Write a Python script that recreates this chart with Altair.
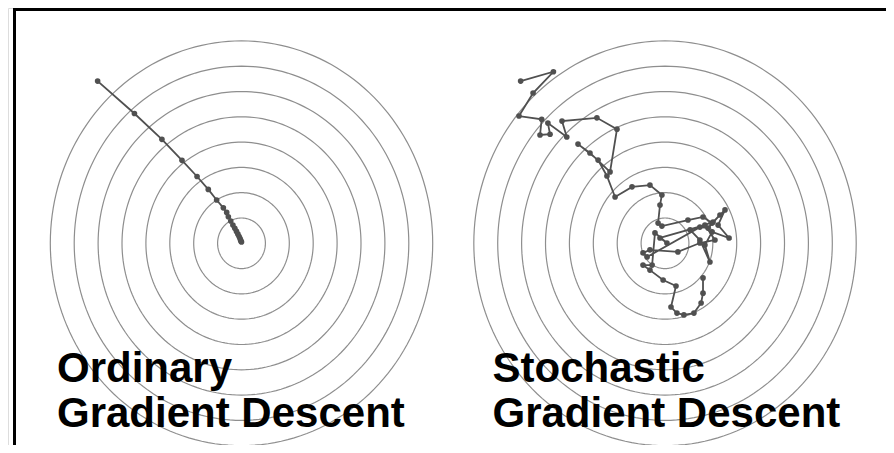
import altair as alt
import pandas as pd

# ---- data (units: one ring spacing = 1, relative to each panel's centre) ----
ring_radii = [1, 2, 3, 4, 5, 6, 7, 8]
panel_names = ["Ordinary", "Stochastic"]
panel_center_x = [0.0, 17.72]

gd_x = [-6.02, -4.48, -3.33, -2.49, -1.86, -1.39, -1.04, -0.76, -0.62, -0.55, -0.45, -0.36,
        -0.28, -0.21, -0.15, -0.10, -0.06, -0.04, -0.02, 0.0]
gd_y = [6.41, 5.13, 4.11, 3.28, 2.64, 2.13, 1.71, 1.40, 1.22, 1.05, 0.88, 0.72,
        0.59, 0.47, 0.36, 0.27, 0.19, 0.13, 0.08, 0.05]

sgd_x = [-6.04, -4.67, -5.52, -6.11, -5.16, -5.23, -4.81, -4.90, -4.11, -4.31, -2.85, -2.01,
         -2.30, -3.14, -3.64, -2.80, -2.43, -2.09, -1.38, -0.63, -0.13,
         -0.21, -0.29, -0.13, 0.96, 1.59, 1.97, 2.51, 2.22, 2.68, 1.97, 1.67, 1.88, 1.46, 1.05,
         2.01, 2.30, 1.80, 1.46, -0.75, -0.92, -0.63, 0.54, 1.46, 2.09, 1.67, -0.21, 0.08, -0.42,
         -0.54, -0.92, -0.63, -0.08, 0.46, 0.25, 0.50, 0.79, 1.21, 1.51, 1.59, 1.59]
sgd_y = [6.41, 6.78, 5.94, 5.03, 4.90, 4.28, 4.31, 4.75, 4.20, 4.83, 4.96, 4.51,
         2.82, 3.57, 3.92, 3.29, 2.66, 1.83, 2.23, 2.30, 1.91,
         1.51, 0.80, 0.68, 0.92, 1.04, 0.80, 1.32, 0.72, 0.21, 0.45, -0.07, -0.74, 0.13, 0.53,
         0.84, 1.12, 0.60, 0.64, -0.54, -0.38, -0.26, -0.34, 0.01, 0.13, 0.72, 0.21, 0.01, 0.41,
         -0.86, -0.86, -1.06, -1.45, -1.69, -2.52, -2.76, -2.83, -2.76, -2.36, -1.97, -1.37]

title_lines = [["Ordinary", "Gradient Descent"], ["Stochastic", "Gradient Descent"]]

# ---- tables ----
rings = pd.DataFrame([
    {"panel": p, "cx": c, "r": r, "ring": f"{p}-{r}"}
    for p, c in zip(panel_names, panel_center_x) for r in ring_radii
])
gd = pd.DataFrame({"step": range(len(gd_x)), "x": [v + panel_center_x[0] for v in gd_x], "y": gd_y})
sgd = pd.DataFrame({"step": range(len(sgd_x)), "x": [v + panel_center_x[1] for v in sgd_x], "y": sgd_y})

W, H = 878, 437
xs = alt.Scale(domain=[-9.770, -9.770 + W / 23.9], nice=False, zero=False)
ys = alt.Scale(domain=[9.300 - H / 25.3, 9.300], nice=False, zero=False)

circles = alt.Chart(rings).transform_calculate(
    t="sequence(0, 362, 2)"
).transform_flatten(["t"]).transform_calculate(
    px="datum.cx + datum.r * cos(datum.t * PI / 180)",
    py="datum.r * sin(datum.t * PI / 180)",
).mark_line(stroke="#8e8e8e", strokeWidth=1.2).encode(
    x=alt.X("px:Q", scale=xs, axis=None),
    y=alt.Y("py:Q", scale=ys, axis=None),
    detail="ring:N",
    order="t:Q",
)

PATH_COLOR = "#505050"


def path_layers(df):
    base = alt.Chart(df).encode(
        x=alt.X("x:Q", scale=xs, axis=None),
        y=alt.Y("y:Q", scale=ys, axis=None),
    )
    line = base.mark_line(color=PATH_COLOR, strokeWidth=1.8).encode(order="step:Q")
    pts = base.mark_circle(color=PATH_COLOR, size=32, opacity=1)
    return line + pts


one = pd.DataFrame({"k": [0]})
TEXT_STYLE = dict(font="Liberation Sans", fontWeight="bold", fontSize=42, color="black",
                  align="left", baseline="alphabetic", lineHeight=45)
text_left = alt.Chart(one).mark_text(**TEXT_STYLE).encode(
    x=alt.value(49), y=alt.value(374), text=alt.value(title_lines[0]))
text_right = alt.Chart(one).mark_text(**TEXT_STYLE).encode(
    x=alt.value(484.5), y=alt.value(374), text=alt.value(title_lines[1]))

frame_left = alt.Chart(one).mark_rule(color="black", strokeWidth=3).encode(
    x=alt.value(6.5), y=alt.value(0), y2=alt.value(H)
)
frame_top = alt.Chart(one).mark_rule(color="black", strokeWidth=3).encode(
    y=alt.value(1.5), x=alt.value(5), x2=alt.value(W)
)

chart = alt.layer(
    circles, path_layers(gd), path_layers(sgd), text_left, text_right, frame_left, frame_top
).properties(
    width=W, height=H, padding=0, autosize=alt.AutoSizeParams(type="none")
).configure_view(stroke=None).configure(background="white")

chart.save("out.html", embed_options={"renderer": "svg", "actions": False})
